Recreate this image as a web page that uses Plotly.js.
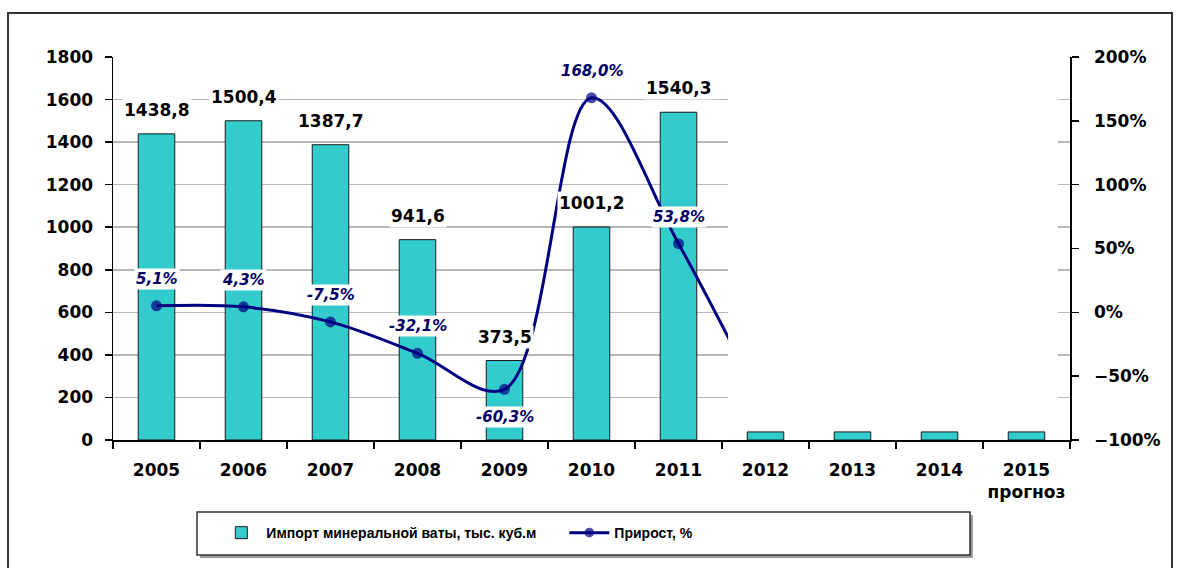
<!DOCTYPE html>
<html>
<head>
<meta charset="utf-8">
<script src="https://cdn.plot.ly/plotly-3.0.1.min.js"></script>
<style>
html,body{margin:0;padding:0;background:#fff;}
#chart{width:1179px;height:568px;}
</style>
</head>
<body>
<div id="chart"></div>
<script>
// ---- data ----
const years = ['2005','2006','2007','2008','2009','2010','2011','2012','2013','2014','2015'];
const tickLabels = ['2005','2006','2007','2008','2009','2010','2011','2012','2013','2014','2015<br>прогноз'];
const importVals = [1438.8, 1500.4, 1387.7, 941.6, 373.5, 1001.2, 1540.3, 38, 38, 38, 38];
const growthVals = [5.1, 4.3, -7.5, -32.1, -60.3, 168.0, 53.8, -77];
const labeledCount = 7;
const barName = 'Импорт минеральной ваты, тыс. куб.м';
const lineName = 'Прирост, %';

const fmt = v => v.toFixed(1).replace('.', ',');
const FONT = 'DejaVu Sans, Liberation Sans, sans-serif';

const barTrace = {
  type: 'bar',
  name: barName,
  x: years,
  y: importVals,
  width: 0.42,
  marker: {color: '#33CCCC', line: {color: '#1a1a1a', width: 1}},
  hoverinfo: 'skip'
};
const lineTrace = {
  type: 'scatter',
  mode: 'lines+markers',
  name: lineName,
  x: years.slice(0, growthVals.length),
  y: growthVals,
  yaxis: 'y2',
  line: {color: '#000080', width: 3, shape: 'spline', smoothing: 1},
  marker: {color: '#000080', size: growthVals.map((v, i) => i < labeledCount ? 11 : 0),
           symbol: 'circle', line: {width: 0}},
  hoverinfo: 'skip'
};

const annotations = [];
for (let i = 0; i < labeledCount; i++) {
  annotations.push({
    x: i, y: importVals[i], xref: 'x', yref: 'y',
    text: '<b>' + fmt(importVals[i]) + '</b>', showarrow: false,
    yanchor: 'middle', yshift: 24,
    bgcolor: '#ffffff', borderpad: 1,
    font: {family: FONT, size: 17, color: '#000000'}
  });
}
for (let i = 0; i < labeledCount; i++) {
  const below = growthVals[i] < -50;
  annotations.push({
    x: i, y: growthVals[i], xref: 'x', yref: 'y2',
    text: '<b><i>' + fmt(growthVals[i]) + '%</i></b>', showarrow: false,
    yanchor: 'middle', yshift: below ? -28 : 27,
    bgcolor: '#ffffff', borderpad: 1,
    font: {family: FONT, size: 15, color: '#000066'}
  });
}

const shapes = [
  {type: 'rect', xref: 'paper', yref: 'paper', x0: -0.1097, x1: 1.1066, y0: -0.40, y1: 1.115,
   line: {color: '#333333', width: 2}, fillcolor: 'rgba(0,0,0,0)', layer: 'below'},
  {type: 'rect', xref: 'x', yref: 'y', x0: 6.57, x1: 10.36, y0: 42, y1: 1760,
   line: {width: 0}, fillcolor: '#ffffff', layer: 'above'},
  {type: 'rect', xref: 'paper', yref: 'paper', x0: 0.0908, x1: 0.8985, y0: -0.308, y1: -0.196,
   line: {width: 0}, fillcolor: '#9a9a9a', layer: 'below'},
  {type: 'rect', xref: 'paper', yref: 'paper', x0: 0.0878, x1: 0.8955, y0: -0.300, y1: -0.188,
   line: {color: '#333333', width: 1.5}, fillcolor: '#ffffff', layer: 'below'}
];

const tickFont = {family: FONT, size: 17, weight: 'bold', color: '#000'};

const layout = {
  width: 1179, height: 568,
  margin: {l: 113, r: 109, t: 57, b: 128},
  paper_bgcolor: '#ffffff', plot_bgcolor: '#ffffff',
  showlegend: true,
  legend: {
    orientation: 'h', x: 0.108, xanchor: 'left', y: -0.243, yanchor: 'middle',
    bgcolor: 'rgba(0,0,0,0)', borderwidth: 0,
    font: {family: 'Liberation Sans, sans-serif', size: 14, weight: 'bold', color: '#000'},
    itemwidth: 40, entrywidth: 293, entrywidthmode: 'pixels'
  },
  xaxis: {
    type: 'category', tickmode: 'array', tickvals: years, ticktext: tickLabels,
    tickson: 'boundaries', ticks: 'outside', ticklen: 7, tickcolor: '#000', tickwidth: 1.5,
    showline: true, linecolor: '#000', linewidth: 1.5, showgrid: false,
    range: [-0.5, 10.5], ticklabelstandoff: 14, tickangle: 0,
    tickfont: tickFont
  },
  yaxis: {
    range: [0, 1800], tickmode: 'linear', tick0: 0, dtick: 200,
    ticks: 'outside', ticklen: 7, tickcolor: '#000', tickwidth: 1.5,
    showline: true, linecolor: '#000', linewidth: 1.5,
    showgrid: true, gridcolor: '#b8b8b8', gridwidth: 1.5, zeroline: false,
    ticklabelstandoff: 8,
    tickfont: tickFont
  },
  yaxis2: {
    overlaying: 'y', side: 'right',
    range: [-100, 200], tickmode: 'linear', tick0: -100, dtick: 50, ticksuffix: '%',
    ticks: 'outside', ticklen: 7, tickcolor: '#000', tickwidth: 1.5,
    showline: true, linecolor: '#000', linewidth: 1.5,
    showgrid: false, zeroline: false,
    ticklabelstandoff: 12,
    tickfont: tickFont
  },
  annotations: annotations,
  shapes: shapes,
  bargap: 0.5
};

Plotly.newPlot('chart', [barTrace, lineTrace], layout, {displayModeBar: false, staticPlot: true});
</script>
</body>
</html>
